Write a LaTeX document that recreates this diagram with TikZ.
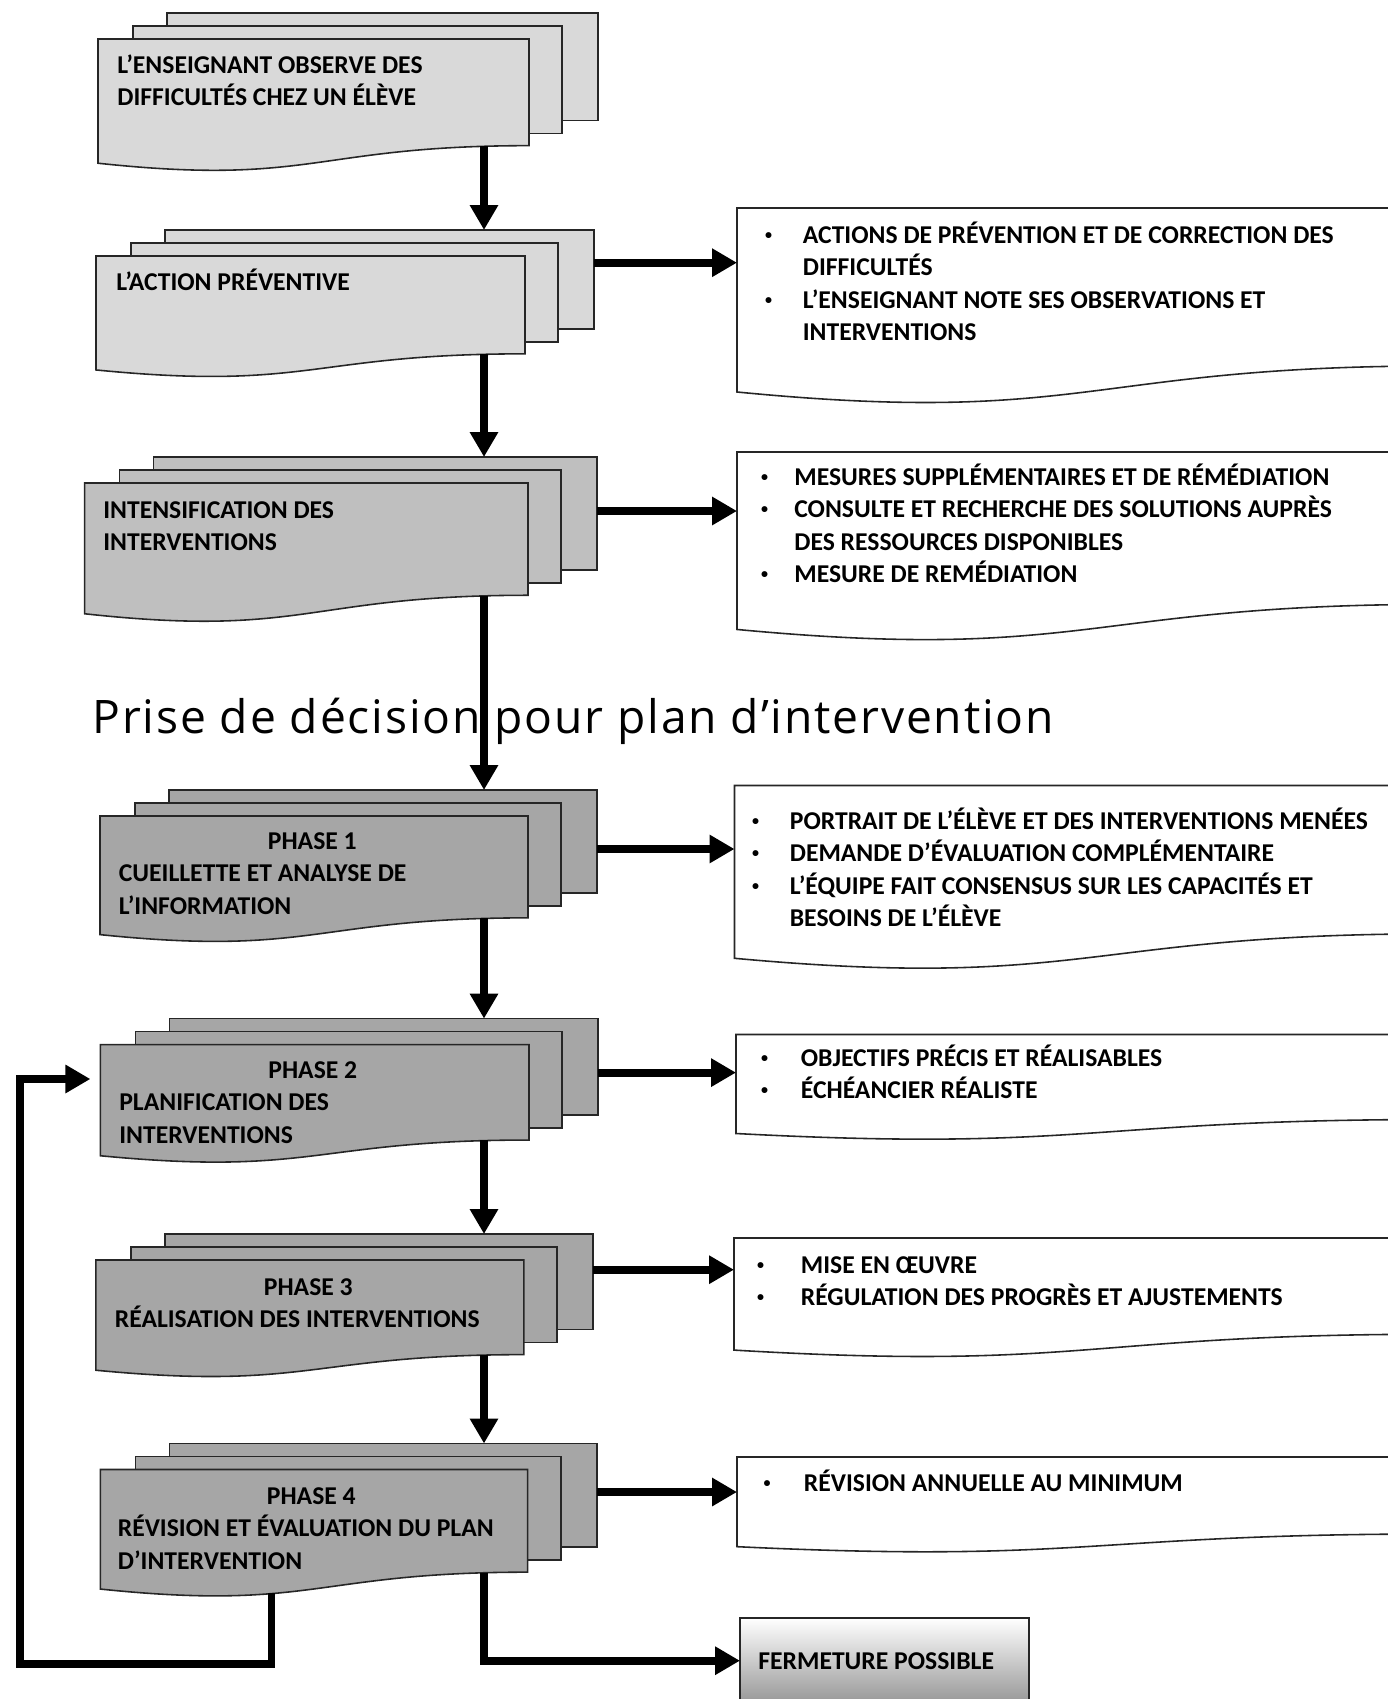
\documentclass[tikz,border=0pt]{standalone}
\usepackage{fontspec}
\setmainfont{Carlito}
\newfontfamily\titlefont[LetterSpace=4.0]{Open Sans}
\usetikzlibrary{arrows.meta,calc}

\definecolor{paleg}{HTML}{D9D9D9}
\definecolor{midg}{HTML}{BFBFBF}
\definecolor{darkg}{HTML}{A6A6A6}

% name, fill, x0, y0, width, height, arrow offset
\newcommand{\docstack}[7]{%
  \draw[layer, fill=#2] ({#3+69},{#4-26}) rectangle ({#3+#5+69},{#4+0.802*#6-25});
  \draw[layer, fill=#2] ({#3+35},{#4-13}) rectangle ({#3+#5+33},{#4+0.802*#6-12});
  \draw[layer, fill=#2] (#3,#4) -- ({#3+#5},#4) -- ({#3+#5},{#4+0.802*#6})
    .. controls ({#3+#5/2},{#4+0.802*#6}) and ({#3+#5/2},{#4+1.1075*#6}) .. (#3,{#4+0.934*#6}) -- cycle;
  \coordinate (#1-in) at (484,{#4-26});
  \coordinate (#1-out) at (484,{#4+0.805*#6});
  \coordinate (#1-east) at ({#3+#5+69},{#4+#7});
}
% name, x0, y0, height
\newcommand{\notebox}[4]{%
  \draw[layer, fill=white] (#2,#3) -- ({#2+700},#3) -- ({#2+700},{#3+0.802*#4})
    .. controls ({#2+350},{#3+0.802*#4}) and ({#2+350},{#3+1.1075*#4}) .. (#2,{#3+0.934*#4}) -- cycle;
  \coordinate (#1) at (#2,#3);
}
\newcommand{\notelist}[2]{\begin{tabular}{@{}p{#1}@{}l@{}}#2\end{tabular}}
\newcommand{\lines}[1]{\begin{tabular}{@{}l@{}}#1\end{tabular}}
\newcommand{\phase}[1]{\makebox[7.74cm]{#1}}
\newcommand{\dotmark}{\hspace*{1pt}\raisebox{2.2pt}{\fontsize{8pt}{8pt}\selectfont\textbullet}}

\begin{document}
\begin{tikzpicture}[x=0.02cm, y=-0.02cm,
  layer/.style={draw=black!85, line width=0.9pt},
  flow/.style={line width=4.5pt, -{Triangle[width=0.54cm,length=0.5cm]}},
  txt/.style={inner sep=0, anchor=north west, font=\fontsize{14.6pt}{18.5pt}\selectfont\bfseries}]
\useasboundingbox (0,0) rectangle (1388,1699);
\clip (0,0) rectangle (1388,1699);

% left column
\docstack{obs}{paleg}{98}{39}{431}{133}{0}
\docstack{prev}{paleg}{96}{256}{429}{122}{6.7}
\docstack{inten}{midg}{84.6}{483}{443.4}{140}{28}
\docstack{ph1}{darkg}{100}{816}{428}{127}{33}
\docstack{ph2}{darkg}{100.4}{1044.6}{428.6}{119}{28}
\docstack{ph3}{darkg}{95.8}{1260}{428}{118}{9.7}
\docstack{ph4}{darkg}{100.4}{1469.5}{427.3}{128}{22.5}

\node[txt] (obstxt) at (117,50) {\lines{L’ENSEIGNANT OBSERVE DES\\DIFFICULTÉS CHEZ UN ÉLÈVE}};
\node[txt] (prevtxt) at (116,267) {\lines{L’ACTION PRÉVENTIVE}};
\node[txt] (intentxt) at (103,495) {\lines{INTENSIFICATION DES\\INTERVENTIONS}};
\node[txt] (ph1txt) at (118.5,826) {\lines{\phase{PHASE 1}\\CUEILLETTE ET ANALYSE DE\\L’INFORMATION}};
\node[txt] (ph2txt) at (119,1055) {\lines{\phase{PHASE 2}\\PLANIFICATION DES\\INTERVENTIONS}};
\node[txt] (ph3txt) at (114.5,1272) {\lines{\phase{PHASE 3}\\RÉALISATION DES INTERVENTIONS}};
\node[txt] (ph4txt) at (117.5,1481) {\lines{\phase{PHASE 4}\\RÉVISION ET ÉVALUATION DU PLAN\\D’INTERVENTION}};

% right column
\notebox{prevnote}{737}{208}{197}
\notebox{intennote}{737}{452}{190}
\notebox{ph1note}{734.5}{785.5}{185}
\notebox{ph2note}{736}{1034.5}{106}
\notebox{ph3note}{734}{1238}{120}
\notebox{ph4note}{737}{1457}{96}

\node[txt] (prevlist) at (763,220) {\notelist{0.79cm}{\dotmark & ACTIONS DE PRÉVENTION ET DE CORRECTION DES\\ & DIFFICULTÉS\\ \dotmark & L’ENSEIGNANT NOTE SES OBSERVATIONS ET\\ & INTERVENTIONS}};
\node[txt] (intenlist) at (759,462) {\notelist{0.70cm}{\dotmark & MESURES SUPPLÉMENTAIRES ET DE RÉMÉDIATION\\ \dotmark & CONSULTE ET RECHERCHE DES SOLUTIONS AUPRÈS\\ & DES RESSOURCES DISPONIBLES\\ \dotmark & MESURE DE REMÉDIATION}};
\node[txt] (ph1list) at (750,806) {\notelist{0.79cm}{\dotmark & PORTRAIT DE L’ÉLÈVE ET DES INTERVENTIONS MENÉES\\ \dotmark & DEMANDE D’ÉVALUATION COMPLÉMENTAIRE\\ \dotmark & L’ÉQUIPE FAIT CONSENSUS SUR LES CAPACITÉS ET\\ & BESOINS DE L’ÉLÈVE}};
\node[txt] (ph2list) at (759,1043) {\notelist{0.83cm}{\dotmark & OBJECTIFS PRÉCIS ET RÉALISABLES\\ \dotmark & ÉCHÉANCIER RÉALISTE}};
\node[txt] (ph3list) at (755,1250) {\notelist{0.91cm}{\dotmark & MISE EN ŒUVRE\\ \dotmark & RÉGULATION DES PROGRÈS ET AJUSTEMENTS}};
\node[txt] (ph4list) at (761.6,1468) {\notelist{0.84cm}{\dotmark & RÉVISION ANNUELLE AU MINIMUM}};

% closing box
\draw[layer, top color=white, bottom color=black!45] (740,1618) rectangle (1029,1712);
\coordinate (fermbox) at (740,1660.7);
\node[txt, anchor=base west] (ferm) at (758,1669) {FERMETURE POSSIBLE};

\node[inner sep=0, anchor=base west, font=\titlefont\fontsize{26.3pt}{30pt}\selectfont] (title) at (92,733) {Prise de décision pour plan d’intervention};

% connectors
\draw[flow] (obs-out) -- (prev-in);
\draw[flow] (prev-out) -- (inten-in);
\draw[flow] (inten-out) -- (ph1-in);
\draw[flow] (ph1-out) -- (ph2-in);
\draw[flow] (ph2-out) -- (ph3-in);
\draw[flow] (ph3-out) -- (ph4-in);
\foreach \s/\t in {prev/prevnote, inten/intennote, ph1/ph1note, ph2/ph2note, ph3/ph3note, ph4/ph4note}
  \draw[flow] (\s-east) -- (\s-east -| \t);
\draw[flow] (ph4-out) |- (fermbox);
\coordinate (fb) at (271.5,1593);
\coordinate (loopin) at (100.4,1079);
\draw[flow, shorten >=0.2cm] (fb) -- ++(0,71) -| ($(loopin)+(-80,0)$) -- (loopin);
\end{tikzpicture}
\end{document}
